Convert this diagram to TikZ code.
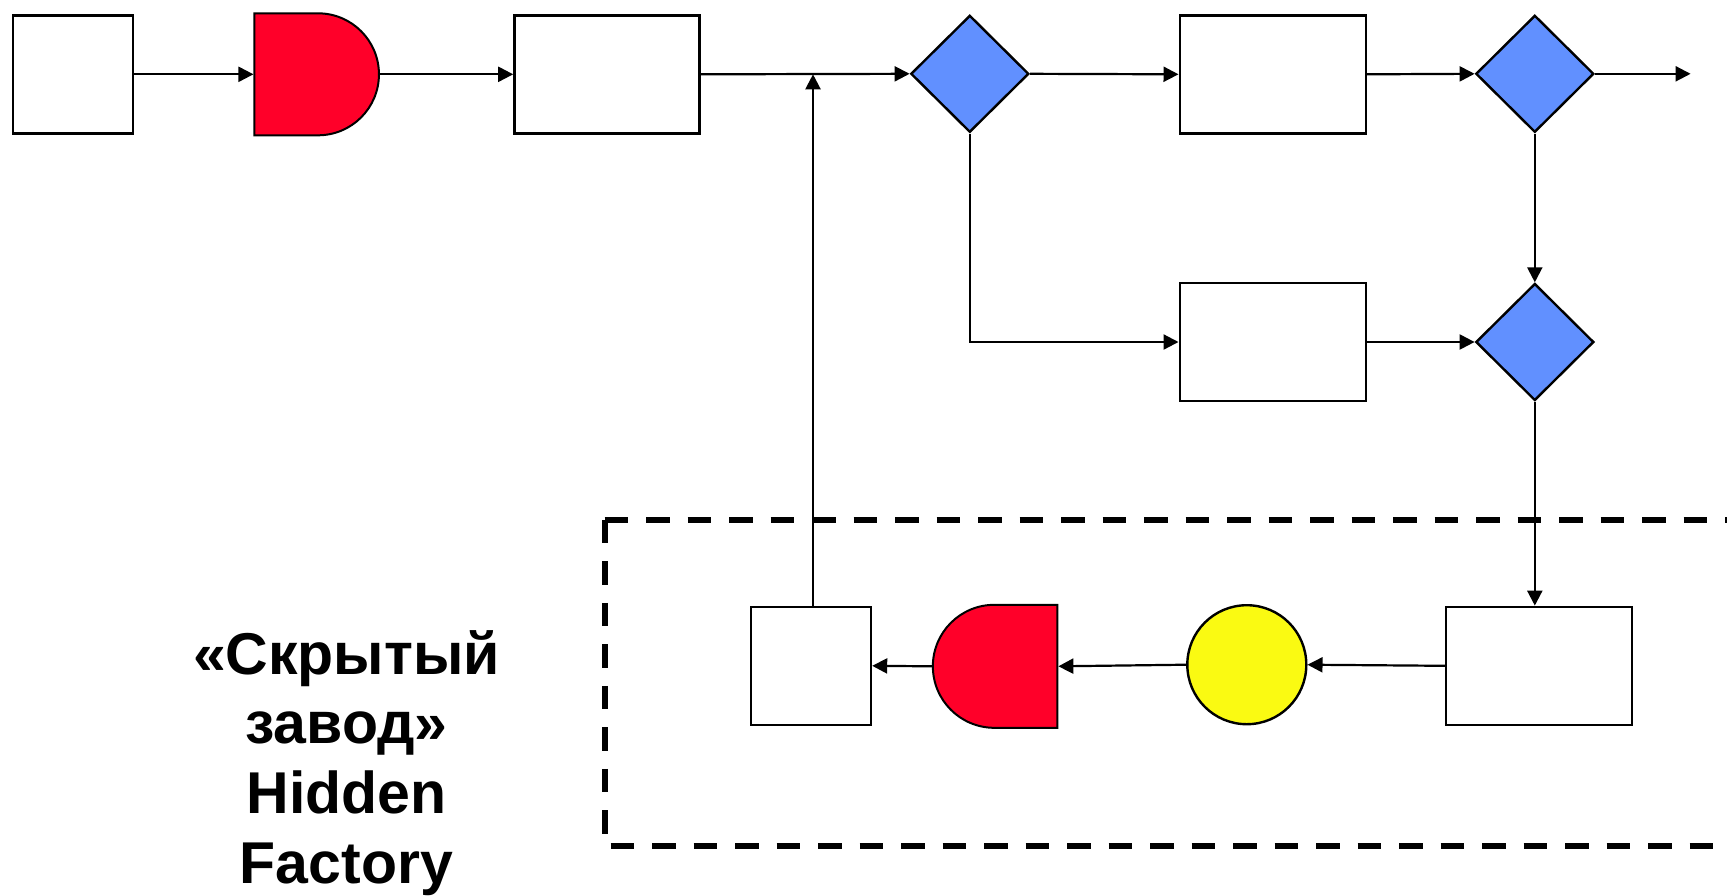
\documentclass[tikz,border=0pt]{standalone}
\usepackage{fontspec}
\setmainfont{Liberation Sans}
\usetikzlibrary{shapes.geometric,shapes.misc,arrows.meta}
\definecolor{stopred}{RGB}{255,0,41}
\definecolor{gateblue}{RGB}{97,144,255}
\definecolor{waityellow}{RGB}{250,250,18}
\tikzset{
  box/.style={draw, line width=1.2pt, fill=white, rectangle, inner sep=0pt},
  gate/.style={draw, line width=1.2pt, fill=gateblue, diamond, inner sep=0pt, minimum width=59pt, minimum height=58.5pt},
  delayR/.style={draw, line width=1pt, fill=stopred, rounded rectangle, rounded rectangle west arc=none, inner sep=0pt, minimum width=62.25pt, minimum height=61pt},
  delayL/.style={draw, line width=1pt, fill=stopred, rounded rectangle, rounded rectangle east arc=none, inner sep=0pt, minimum width=62.25pt, minimum height=61.5pt},
  queue/.style={draw, line width=1.2pt, fill=waityellow, circle, inner sep=0pt, minimum size=59.5pt},
  flow/.style={line width=1.1pt, -{Triangle[length=7.5pt,width=7.5pt]}},
  hidden/.style={line width=3pt, dash pattern=on 11.75pt off 9pt}
}
\begin{document}
\begin{tikzpicture}[x=0.5pt,y=-0.5pt]
\useasboundingbox (0,0) rectangle (1727,895);

% main line
\node[box, minimum width=60pt, minimum height=59pt] (b1) at (73.2,74.3) {};
\node[delayR] (d1) at (316.7,74.3) {};
\node[box, minimum width=92.5pt, minimum height=59pt] (b3) at (606.9,74.3) {};
\node[gate] (g1) at (969.8,73.8) {};
\node[box, minimum width=93pt, minimum height=59pt] (b4) at (1272.7,74.3) {};
\node[gate] (g2) at (1534.8,73.8) {};
\coordinate (exit) at (1690.6,73.8);

% rework branch
\node[box, minimum width=93pt, minimum height=59pt] (b5) at (1272.7,342) {};
\node[gate] (g3) at (1534.8,342) {};

% hidden factory loop
\node[box, minimum width=93pt, minimum height=59pt] (b6) at (1539.2,665.8) {};
\node[queue] (c1) at (1246.8,664.7) {};
\node[delayL] (d2) at (995.1,666.3) {};
\node[box, minimum width=60pt, minimum height=59pt] (b7) at (811,665.8) {};

% dashed frame (open to the right)
\draw[hidden] (604.7,519.9) -- (1727,519.9);
\draw[hidden] (604.7,519.9) -- (604.7,845.9) -- (1727,845.9);

% connectors
\draw[flow] (b1.east) -- (d1.west);
\draw[flow] (d1.east) -- (b3.west);
\draw[flow] (b3.east) -- (g1.west);
\draw[flow] (g1.east) -- (b4.west);
\draw[flow] (b4.east) -- (g2.west);
\draw[flow] (g2.east) -- (exit);
\draw[flow] (g2.south) -- (g3.north);
\draw[flow] (g1.south) |- (b5.west);
\draw[flow] (b5.east) -- (g3.west);
\draw[flow] (g3.south) -- (g3.south |- b6.north);
\draw[flow] (b6.west) -- (c1.east);
\draw[flow] (c1.west) -- (d2.east);
\draw[flow] (d2.west) -- (b7.east);
\draw[flow] ([xshift=1pt]b7.north) -- ([xshift=1pt]b7.north |- b3.east);

% caption (base anchor sits on the last line)
\node[anchor=base, align=center, font=\bfseries\fontsize{29.5pt}{34.8pt}\selectfont] (cap) at (346.5,883)
  {«Скрытый\\завод»\\Hidden\\Factory};
\end{tikzpicture}
\end{document}
